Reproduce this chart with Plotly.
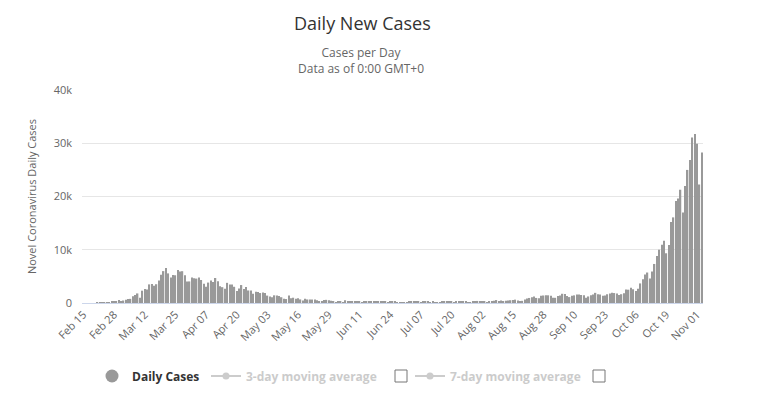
import pandas as pd
import plotly.graph_objects as go

# ---------------- data ----------------
start_date = "2020-02-15"
daily_cases = [
    # Feb 15 - Feb 29
    0, 0, 0, 0, 0, 0, 17, 59, 76, 74, 93, 131, 202, 233, 240,
    # Mar
    566, 342, 466, 587, 769, 778, 1247, 1492, 1797, 977, 2313, 2651, 2547, 3497, 3590, 3233,
    3526, 4207, 5322, 5986, 6557, 5560, 4789, 5249, 5210, 6203, 5909, 5974, 5217, 4050, 4053,
    # Apr
    4782, 4668, 4585, 4805, 4316, 3599, 3039, 3836, 4204, 3951, 4694, 4092, 3153, 2972, 2667,
    3786, 3493, 3491, 3047, 2256, 2729, 3370, 2646, 3021, 2357, 2324, 1739, 2091, 2086, 1872,
    # May
    1965, 1900, 1389, 1221, 1075, 1444, 1401, 1327, 1083, 802, 744, 1402, 888, 992, 789, 875,
    675, 451, 813, 665, 642, 652, 669, 531, 300, 397, 584, 593, 516, 416, 355,
    # Jun
    178, 318, 321, 177, 518, 270, 197, 280, 283, 202, 379, 163, 346, 338, 301, 210, 329, 333,
    251, 262, 224, 218, 122, 190, 296, 259, 175, 174, 126, 142,
    # Jul
    187, 201, 223, 235, 192, 208, 138, 193, 229, 276, 188, 234, 169, 114, 162, 230, 233, 249,
    219, 190, 129, 282, 306, 252, 275, 255, 170, 181, 212, 289, 386,
    # Aug
    379, 295, 239, 159, 190, 384, 402, 552, 347, 463, 259, 412, 481, 523, 574, 629, 479, 320,
    403, 642, 845, 947, 1071, 1210, 953, 878, 1367, 1411, 1460, 1444, 1365,
    # Sep
    996, 978, 1326, 1397, 1733, 1695, 1297, 1108, 1370, 1434, 1597, 1616, 1501, 1458, 1008,
    1229, 1452, 1585, 1907, 1638, 1587, 1350, 1392, 1640, 1786, 1912, 1869, 1766, 1494, 1648,
    # Oct
    1851, 2548, 2499, 2844, 2578, 2257, 2677, 3678, 4458, 5372, 5724, 4619, 5901, 7332, 8804,
    10010, 10925, 11705, 9338, 10874, 15199, 16079, 19143, 19644, 21273, 17012, 21994, 24991,
    26831, 31084, 31758,
    # Nov
    29907, 22253, 28244,
]
x_tick_labels = ["Feb 15", "Feb 28", "Mar 12", "Mar 25", "Apr 07", "Apr 20", "May 03",
                 "May 16", "May 29", "Jun 11", "Jun 24", "Jul 07", "Jul 20", "Aug 02",
                 "Aug 15", "Aug 28", "Sep 10", "Sep 23", "Oct 06", "Oct 19", "Nov 01"]
y_tick_values = [0, 10000, 20000, 30000, 40000]
y_tick_labels = ["0", "10k", "20k", "30k", "40k"]

dates = pd.date_range(start_date, periods=len(daily_cases), freq="D")
series = pd.Series(daily_cases, index=dates)
ma3 = series.rolling(3).mean()
ma7 = series.rolling(7).mean()
tick_dates = [d for d in dates[::13]][:len(x_tick_labels)]

# ---------------- layout geometry (pixels) ----------------
W, H = 760, 418
L, R, T, B = 82, 703, 90, 303
pw, ph = R - L, B - T


def px(x):
    return (x - L) / pw


def py(y):
    return (B - y) / ph


FONT = "Open Sans, Liberation Sans, Arial, sans-serif"
BAR = "#999999"
HID = "#9a9a9a"

fig = go.Figure()
fig.add_trace(go.Bar(x=dates, y=daily_cases, marker=dict(color=BAR, line=dict(width=0)),
                     name="Daily Cases", legendgroup="daily", showlegend=False,
                     hovertemplate="%{x|%b %d}: %{y}<extra></extra>"))
fig.add_trace(go.Scatter(x=[None], y=[None], mode="markers", legendgroup="daily",
                         marker=dict(symbol="circle", size=13, color=BAR),
                         name="<b>Daily Cases</b>", legend="legend"))
fig.add_trace(go.Scatter(x=dates, y=ma3, mode="lines+markers", visible="legendonly",
                         line=dict(color=HID, width=2), marker=dict(size=7, color=HID),
                         name="<b><span style='color:#999'>3-day moving average</span></b>",
                         legend="legend2"))
fig.add_trace(go.Scatter(x=dates, y=ma7, mode="lines+markers", visible="legendonly",
                         line=dict(color=HID, width=2), marker=dict(size=7, color=HID),
                         name="<b><span style='color:#999'>7-day moving average</span></b>",
                         legend="legend3"))

# checkboxes next to the moving-average legend items
for cx in (395, 593):
    fig.add_shape(type="rect", xref="paper", yref="paper",
                  x0=px(cx), x1=px(cx + 12), y0=py(370), y1=py(382),
                  line=dict(color="#777", width=1), fillcolor="white")

fig.add_annotation(text="Daily New Cases", xref="paper", yref="paper",
                   x=px(362), y=py(23), xanchor="center", yanchor="middle",
                   showarrow=False, font=dict(family=FONT, size=18, color="#333"))
fig.add_annotation(text="Cases per Day<br>Data as of 0:00 GMT+0", xref="paper", yref="paper",
                   x=px(361), y=py(60.5), xanchor="center", yanchor="middle",
                   showarrow=False, font=dict(family=FONT, size=12, color="#666"))

leg_common = dict(orientation="h", xref="container", yref="container",
                  xanchor="left", yanchor="middle", y=1 - 376 / H,
                  font=dict(family=FONT, size=12, color="#333"),
                  itemclick=False, itemdoubleclick=False, borderwidth=0,
                  bgcolor="rgba(0,0,0,0)")

fig.update_layout(
    width=W, height=H,
    margin=dict(l=L, r=W - R, t=T, b=H - B, autoexpand=False),
    paper_bgcolor="white", plot_bgcolor="white",
    font=dict(family=FONT, size=11, color="#666"),
    bargap=0.42,
    showlegend=True,
    legend=dict(x=92 / W, **leg_common),
    legend2=dict(x=206 / W, **leg_common),
    legend3=dict(x=410 / W, **leg_common),
)
fig.update_xaxes(
    type="date", automargin=False,
    range=[dates[0] - pd.Timedelta(hours=14), dates[-1] + pd.Timedelta(hours=12)],
    tickvals=tick_dates, ticktext=x_tick_labels, tickangle=-45,
    tickfont=dict(family=FONT, size=11, color="#666"),
    showgrid=False, showline=True, linecolor="#ccd6eb", linewidth=1,
    ticks="", zeroline=False,
)
fig.update_yaxes(
    range=[0, 40000], tickvals=y_tick_values, ticktext=y_tick_labels, automargin=False,
    tickfont=dict(family=FONT, size=11, color="#666"),
    showgrid=True, gridcolor="#e6e6e6", gridwidth=1, zeroline=False,
    ticks="", ticklabelstandoff=9,
    title=dict(text="Novel Coronavirus Daily Cases", standoff=14,
               font=dict(family=FONT, size=11, color="#666")),
)

fig.write_html("out.html", config={"displayModeBar": False},
               post_script="document.body.style.margin='0';")
